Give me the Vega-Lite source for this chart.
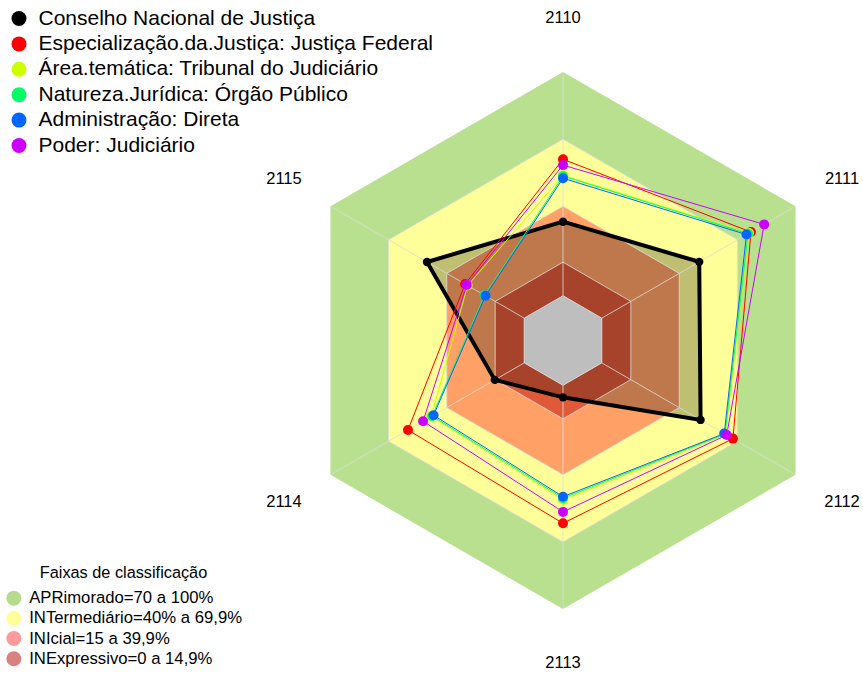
{
  "$schema": "https://vega.github.io/schema/vega-lite/v6.json",
  "width": 863,
  "height": 675,
  "autosize": "none",
  "padding": 0,
  "background": "white",
  "config": {"view": {"stroke": null}, "font": "Liberation Sans"},
  "datasets": {
    "series": [
      {"serie": "Conselho Nacional de Justiça", "eixo": "2110", "valor": 33.1},
      {"serie": "Conselho Nacional de Justiça", "eixo": "2111", "valor": 50.3},
      {"serie": "Conselho Nacional de Justiça", "eixo": "2112", "valor": 51.0},
      {"serie": "Conselho Nacional de Justiça", "eixo": "2113", "valor": 5.4},
      {"serie": "Conselho Nacional de Justiça", "eixo": "2114", "valor": 15.2},
      {"serie": "Conselho Nacional de Justiça", "eixo": "2115", "valor": 50.2},
      {"serie": "Especialização.da.Justiça: Justiça Federal", "eixo": "2110", "valor": 61.0},
      {"serie": "Especialização.da.Justiça: Justiça Federal", "eixo": "2111", "valor": 77.0},
      {"serie": "Especialização.da.Justiça: Justiça Federal", "eixo": "2112", "valor": 67.7},
      {"serie": "Especialização.da.Justiça: Justiça Federal", "eixo": "2113", "valor": 61.7},
      {"serie": "Especialização.da.Justiça: Justiça Federal", "eixo": "2114", "valor": 60.0},
      {"serie": "Especialização.da.Justiça: Justiça Federal", "eixo": "2115", "valor": 30.5},
      {"serie": "Área.temática: Tribunal do Judiciário", "eixo": "2110", "valor": 53.8},
      {"serie": "Área.temática: Tribunal do Judiciário", "eixo": "2111", "valor": 76.0},
      {"serie": "Área.temática: Tribunal do Judiciário", "eixo": "2112", "valor": 64.0},
      {"serie": "Área.temática: Tribunal do Judiciário", "eixo": "2113", "valor": 51.2},
      {"serie": "Área.temática: Tribunal do Judiciário", "eixo": "2114", "valor": 48.0},
      {"serie": "Área.temática: Tribunal do Judiciário", "eixo": "2115", "valor": 29.2},
      {"serie": "Natureza.Jurídica: Órgão Público", "eixo": "2110", "valor": 53.5},
      {"serie": "Natureza.Jurídica: Órgão Público", "eixo": "2111", "valor": 75.5},
      {"serie": "Natureza.Jurídica: Órgão Público", "eixo": "2112", "valor": 63.6},
      {"serie": "Natureza.Jurídica: Órgão Público", "eixo": "2113", "valor": 50.5},
      {"serie": "Natureza.Jurídica: Órgão Público", "eixo": "2114", "valor": 47.5},
      {"serie": "Natureza.Jurídica: Órgão Público", "eixo": "2115", "valor": 20.5},
      {"serie": "Administração: Direta", "eixo": "2110", "valor": 52.5},
      {"serie": "Administração: Direta", "eixo": "2111", "valor": 74.7},
      {"serie": "Administração: Direta", "eixo": "2112", "valor": 63.2},
      {"serie": "Administração: Direta", "eixo": "2113", "valor": 49.8},
      {"serie": "Administração: Direta", "eixo": "2114", "valor": 46.8},
      {"serie": "Administração: Direta", "eixo": "2115", "valor": 20.0},
      {"serie": "Poder: Judiciário", "eixo": "2110", "valor": 58.4},
      {"serie": "Poder: Judiciário", "eixo": "2111", "valor": 83.8},
      {"serie": "Poder: Judiciário", "eixo": "2112", "valor": 64.5},
      {"serie": "Poder: Judiciário", "eixo": "2113", "valor": 56.6},
      {"serie": "Poder: Judiciário", "eixo": "2114", "valor": 52.2},
      {"serie": "Poder: Judiciário", "eixo": "2115", "valor": 29.7}
    ],
    "faixas": [
      {"faixa": "APR", "valor": 100, "eixo": "2110"}, {"faixa": "APR", "valor": 100, "eixo": "2111"}, {"faixa": "APR", "valor": 100, "eixo": "2112"},
      {"faixa": "APR", "valor": 100, "eixo": "2113"}, {"faixa": "APR", "valor": 100, "eixo": "2114"}, {"faixa": "APR", "valor": 100, "eixo": "2115"},
      {"faixa": "INT", "valor": 70, "eixo": "2110"}, {"faixa": "INT", "valor": 70, "eixo": "2111"}, {"faixa": "INT", "valor": 70, "eixo": "2112"},
      {"faixa": "INT", "valor": 70, "eixo": "2113"}, {"faixa": "INT", "valor": 70, "eixo": "2114"}, {"faixa": "INT", "valor": 70, "eixo": "2115"},
      {"faixa": "INI", "valor": 40, "eixo": "2110"}, {"faixa": "INI", "valor": 40, "eixo": "2111"}, {"faixa": "INI", "valor": 40, "eixo": "2112"},
      {"faixa": "INI", "valor": 40, "eixo": "2113"}, {"faixa": "INI", "valor": 40, "eixo": "2114"}, {"faixa": "INI", "valor": 40, "eixo": "2115"},
      {"faixa": "INE", "valor": 15, "eixo": "2110"}, {"faixa": "INE", "valor": 15, "eixo": "2111"}, {"faixa": "INE", "valor": 15, "eixo": "2112"},
      {"faixa": "INE", "valor": 15, "eixo": "2113"}, {"faixa": "INE", "valor": 15, "eixo": "2114"}, {"faixa": "INE", "valor": 15, "eixo": "2115"},
      {"faixa": "ZERO", "valor": 0, "eixo": "2110"}, {"faixa": "ZERO", "valor": 0, "eixo": "2111"}, {"faixa": "ZERO", "valor": 0, "eixo": "2112"},
      {"faixa": "ZERO", "valor": 0, "eixo": "2113"}, {"faixa": "ZERO", "valor": 0, "eixo": "2114"}, {"faixa": "ZERO", "valor": 0, "eixo": "2115"}
    ],
    "eixos": [
      {"eixo": "2110"}, {"eixo": "2111"}, {"eixo": "2112"}, {"eixo": "2113"}, {"eixo": "2114"}, {"eixo": "2115"}
    ],
    "legendaFaixas": [
      {"faixa": "APRimorado=70 a 100%"},
      {"faixa": "INTermediário=40% a 69,9%"},
      {"faixa": "INIcial=15 a 39,9%"},
      {"faixa": "INExpressivo=0 a 14,9%"}
    ]
  },
  "layer": [
    {
      "data": {"name": "faixas"},
      "transform": [
        {"calculate": "toNumber(datum.eixo) - 2110", "as": "i"},
        {"calculate": "PI/2 - datum.i*PI/3", "as": "t"},
        {"calculate": "(20 + datum.valor)/120", "as": "r"},
        {"calculate": "datum.r*cos(datum.t)", "as": "x"},
        {"calculate": "datum.r*sin(datum.t)", "as": "y"}
      ],
      "encoding": {
        "x": {"field": "x", "type": "quantitative", "scale": {"domain": [-2.0968, 1.1173], "nice": false, "zero": false}, "axis": null},
        "y": {"field": "y", "type": "quantitative", "scale": {"domain": [-1.2458, 1.2682], "nice": false, "zero": false}, "axis": null},
        "order": {"field": "i", "type": "quantitative"}
      },
      "layer": [
        {"transform": [{"filter": "datum.faixa == 'APR'"}], "mark": {"type": "line", "interpolate": "linear-closed", "fill": "#B8E08E", "strokeWidth": 0}},
        {"transform": [{"filter": "datum.faixa == 'INT'"}], "mark": {"type": "line", "interpolate": "linear-closed", "fill": "#FFFF99", "strokeWidth": 0}},
        {"transform": [{"filter": "datum.faixa == 'INI'"}], "mark": {"type": "line", "interpolate": "linear-closed", "fill": "#FFA066", "strokeWidth": 0}},
        {"transform": [{"filter": "datum.faixa == 'INE'"}], "mark": {"type": "line", "interpolate": "linear-closed", "fill": "#E05A3A", "strokeWidth": 0}}
      ]
    },
    {
      "data": {"name": "series"},
      "transform": [
        {"filter": "datum.serie == 'Conselho Nacional de Justiça'"},
        {"calculate": "toNumber(datum.eixo) - 2110", "as": "i"},
        {"calculate": "PI/2 - datum.i*PI/3", "as": "t"},
        {"calculate": "(20 + datum.valor)/120", "as": "r"},
        {"calculate": "datum.r*cos(datum.t)", "as": "x"},
        {"calculate": "datum.r*sin(datum.t)", "as": "y"}
      ],
      "mark": {"type": "line", "interpolate": "linear-closed", "fill": "#000000", "fillOpacity": 0.25, "strokeWidth": 0},
      "encoding": {
        "x": {"field": "x", "type": "quantitative", "scale": {"domain": [-2.0968, 1.1173], "nice": false, "zero": false}, "axis": null},
        "y": {"field": "y", "type": "quantitative", "scale": {"domain": [-1.2458, 1.2682], "nice": false, "zero": false}, "axis": null},
        "order": {"field": "i", "type": "quantitative"}
      }
    },
    {
      "data": {"name": "faixas"},
      "transform": [
        {"calculate": "toNumber(datum.eixo) - 2110", "as": "i"},
        {"calculate": "PI/2 - datum.i*PI/3", "as": "t"},
        {"calculate": "(20 + datum.valor)/120", "as": "r"},
        {"calculate": "datum.r*cos(datum.t)", "as": "x"},
        {"calculate": "datum.r*sin(datum.t)", "as": "y"},
        {"calculate": "cos(datum.t)", "as": "x2"},
        {"calculate": "sin(datum.t)", "as": "y2"}
      ],
      "layer": [
        {
          "transform": [{"filter": "datum.faixa == 'ZERO'"}],
          "mark": {"type": "line", "interpolate": "linear-closed", "fill": "#BEBEBE", "stroke": "#D9D9D9", "strokeWidth": 1},
          "encoding": {
            "x": {"field": "x", "type": "quantitative", "scale": {"domain": [-2.0968, 1.1173], "nice": false, "zero": false}, "axis": null},
            "y": {"field": "y", "type": "quantitative", "scale": {"domain": [-1.2458, 1.2682], "nice": false, "zero": false}, "axis": null},
            "order": {"field": "i", "type": "quantitative"}
          }
        },
        {
          "transform": [{"filter": "datum.faixa == 'INE' || datum.faixa == 'INI' || datum.faixa == 'INT'"}],
          "mark": {"type": "line", "interpolate": "linear-closed", "stroke": "#DCDCDC", "strokeWidth": 1, "opacity": 0.8},
          "encoding": {
            "x": {"field": "x", "type": "quantitative", "scale": {"domain": [-2.0968, 1.1173], "nice": false, "zero": false}, "axis": null},
            "y": {"field": "y", "type": "quantitative", "scale": {"domain": [-1.2458, 1.2682], "nice": false, "zero": false}, "axis": null},
            "detail": {"field": "faixa", "type": "nominal"},
            "order": {"field": "i", "type": "quantitative"}
          }
        },
        {
          "transform": [{"filter": "datum.faixa == 'ZERO'"}],
          "mark": {"type": "rule", "stroke": "#DCDCDC", "strokeWidth": 1, "opacity": 0.8},
          "encoding": {
            "x": {"field": "x", "type": "quantitative", "scale": {"domain": [-2.0968, 1.1173], "nice": false, "zero": false}, "axis": null},
            "y": {"field": "y", "type": "quantitative", "scale": {"domain": [-1.2458, 1.2682], "nice": false, "zero": false}, "axis": null},
            "x2": {"field": "x2"},
            "y2": {"field": "y2"}
          }
        }
      ]
    },
    {
      "data": {"name": "series"},
      "transform": [
        {"calculate": "toNumber(datum.eixo) - 2110", "as": "i"},
        {"calculate": "PI/2 - datum.i*PI/3", "as": "t"},
        {"calculate": "(20 + datum.valor)/120", "as": "r"},
        {"calculate": "datum.r*cos(datum.t)", "as": "x"},
        {"calculate": "datum.r*sin(datum.t)", "as": "y"}
      ],
      "encoding": {
        "x": {"field": "x", "type": "quantitative", "scale": {"domain": [-2.0968, 1.1173], "nice": false, "zero": false}, "axis": null},
        "y": {"field": "y", "type": "quantitative", "scale": {"domain": [-1.2458, 1.2682], "nice": false, "zero": false}, "axis": null},
        "color": {
          "field": "serie", "type": "nominal",
          "scale": {
            "domain": ["Conselho Nacional de Justiça", "Especialização.da.Justiça: Justiça Federal", "Área.temática: Tribunal do Judiciário", "Natureza.Jurídica: Órgão Público", "Administração: Direta", "Poder: Judiciário"],
            "range": ["#000000", "#FF0000", "#CCFF00", "#00FF66", "#0066FF", "#CC00FF"]
          },
          "legend": {
            "orient": "none", "legendX": 8.5, "legendY": 8, "title": null, "padding": 0,
            "labelFont": "Liberation Sans", "labelFontSize": 21, "labelColor": "#000000", "labelLimit": 0,
            "symbolType": "circle", "symbolSize": 225, "rowPadding": 3.4, "labelOffset": 9,
            "encode": {"symbols": {"update": {"fill": {"scale": "color", "field": "value"}, "stroke": {"scale": "color", "field": "value"}, "strokeWidth": {"value": 0}, "opacity": {"value": 1}, "shape": {"value": "circle"}}}}
          }
        },
        "order": {"field": "i", "type": "quantitative"}
      },
      "layer": [
        {"transform": [{"filter": "datum.serie == 'Conselho Nacional de Justiça'"}], "mark": {"type": "line", "interpolate": "linear-closed", "strokeWidth": 4}},
        {"transform": [{"filter": "datum.serie == 'Conselho Nacional de Justiça'"}], "mark": {"type": "point", "filled": true, "opacity": 1, "size": 70, "shape": "circle"}},
        {"transform": [{"filter": "datum.serie != 'Conselho Nacional de Justiça'"}], "mark": {"type": "line", "interpolate": "linear-closed", "strokeWidth": 1}},
        {"transform": [{"filter": "datum.serie != 'Conselho Nacional de Justiça'"}], "mark": {"type": "point", "filled": true, "opacity": 1, "size": 100, "shape": "circle"}}
      ]
    },
    {
      "data": {"name": "eixos"},
      "transform": [
        {"calculate": "toNumber(datum.eixo) - 2110", "as": "i"},
        {"calculate": "PI/2 - datum.i*PI/3", "as": "t"},
        {"calculate": "1.2*cos(datum.t)", "as": "x"},
        {"calculate": "1.2*sin(datum.t)", "as": "y"}
      ],
      "mark": {"type": "text", "font": "Liberation Sans", "fontSize": 16.5, "color": "#000000", "align": "center", "baseline": "middle"},
      "encoding": {
        "x": {"field": "x", "type": "quantitative", "scale": {"domain": [-2.0968, 1.1173], "nice": false, "zero": false}, "axis": null},
        "y": {"field": "y", "type": "quantitative", "scale": {"domain": [-1.2458, 1.2682], "nice": false, "zero": false}, "axis": null},
        "text": {"field": "eixo", "type": "nominal"}
      }
    },
    {
      "data": {"name": "legendaFaixas"},
      "mark": {"type": "point", "filled": true, "opacity": 0, "shape": "circle"},
      "encoding": {
        "fill": {
          "field": "faixa", "type": "nominal",
          "scale": {
            "domain": ["APRimorado=70 a 100%", "INTermediário=40% a 69,9%", "INIcial=15 a 39,9%", "INExpressivo=0 a 14,9%"],
            "range": ["#B5DC8C", "#FFFF99", "#FF9A9A", "#D98080"]
          },
          "legend": {
            "orient": "none", "legendX": 5.5, "legendY": 565, "padding": 0,
            "title": "Faixas de classificação", "titleFont": "Liberation Sans", "titleFontSize": 16.3, "titleFontWeight": "normal", "titleColor": "#000000", "titleAnchor": "middle", "titlePadding": 8.5,
            "labelFont": "Liberation Sans", "labelFontSize": 16.7, "labelColor": "#000000", "labelLimit": 0,
            "symbolType": "circle", "symbolSize": 225, "rowPadding": 2.2, "labelOffset": 7,
            "encode": {"symbols": {"update": {"fill": {"scale": "fill", "field": "value"}, "strokeWidth": {"value": 0}, "opacity": {"value": 1}, "fillOpacity": {"value": 1}, "shape": {"value": "circle"}}}}
          }
        }
      }
    }
  ]
}
